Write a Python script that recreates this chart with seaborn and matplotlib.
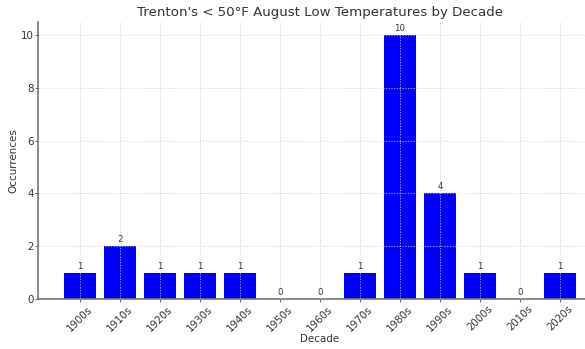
import matplotlib
matplotlib.use("Agg")
import matplotlib.pyplot as plt
import seaborn as sns
import pandas as pd

decades = ["1900s", "1910s", "1920s", "1930s", "1940s", "1950s", "1960s",
           "1970s", "1980s", "1990s", "2000s", "2010s", "2020s"]
occurrences = [1, 2, 1, 1, 1, 0, 0, 1, 10, 4, 1, 0, 1]

df = pd.DataFrame({"Decade": decades, "Occurrences": occurrences})

text_color = "#333333"
plt.rcParams["font.family"] = ["DejaVu Sans"]

W, H = 585, 349
fig = plt.figure(figsize=(W / 100, H / 100), dpi=100)
ax = fig.add_axes([38.4 / W, 50 / H, 563.2 / W, 277.2 / H])

sns.barplot(data=df, x="Decade", y="Occurrences", color="#0000ff",
            saturation=1, width=0.8, ax=ax, edgecolor="none")

ax.set_xlim(-1.04, 13.04)
ax.set_ylim(0, 10.5)
ax.set_yticks([0, 2, 4, 6, 8, 10])

for i, v in enumerate(occurrences):
    ax.annotate(str(v), (i, v), xytext=(0, 1.5), textcoords="offset points",
                ha="center", va="bottom", fontsize=6.2, color=text_color)

ax.set_title("Trenton's < 50°F August Low Temperatures by Decade",
             fontsize=9.6, color=text_color, pad=4)
ax.set_xlabel("Decade", fontsize=7.4, color=text_color, labelpad=0.5)
ax.set_ylabel("Occurrences", fontsize=7.4, color=text_color, labelpad=1.5)
ax.tick_params(axis="x", labelsize=7.4, labelcolor=text_color, rotation=45,
               length=2, color="#555555", width=0.6, pad=1.5)
ax.tick_params(axis="y", labelsize=7.4, labelcolor=text_color,
               length=2, color="#555555", width=0.6, pad=1.5)

ax.set_axisbelow(False)
ax.grid(True, linestyle=(0, (2, 2)), linewidth=0.5, color="#cccccc")

for s in ["top", "right"]:
    ax.spines[s].set_visible(False)
for s in ["left", "bottom"]:
    ax.spines[s].set_color("#777777")
    ax.spines[s].set_linewidth(1.2)

fig.savefig("out.png", dpi=100)
